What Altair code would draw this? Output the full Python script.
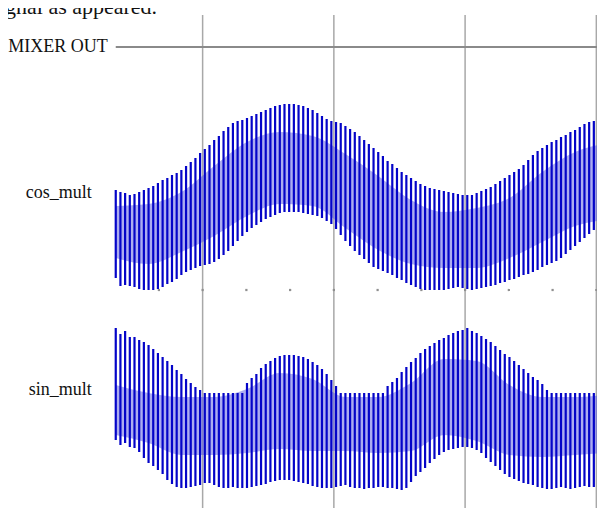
import altair as alt
import pandas as pd

# ---- values (amplitude relative to each trace's baseline) ----
cos_top = [50, 48, 47, 45, 46, 48, 50, 52, 54, 57, 60, 62, 65, 67, 70, 74, 78, 82, 87, 91,
           95, 100, 104, 109, 113, 117, 119, 120, 122, 124, 126, 128, 130, 132, 134, 135, 136, 136, 136, 135,
           134, 132, 130, 127, 124, 121, 119, 118, 117, 114, 111, 108, 104, 100, 96, 92, 88, 84, 79, 76,
           72, 68, 65, 62, 59, 56, 54, 52, 51, 50, 49, 48, 47, 46, 45, 45, 45, 47, 49, 51,
           53, 56, 59, 62, 65, 68, 71, 75, 80, 85, 89, 92, 95, 98, 100, 103, 105, 108, 110, 113,
           116, 118, 119, 121, 122]
cos_bot = [-38, -46, -45, -46, -47, -49, -50, -50, -50, -49, -47, -44, -42, -39, -35, -32, -30, -28, -26, -25,
           -24, -22, -19, -15, -11, -6, -1, 4, 8, 12, 15, 18, 21, 23, 25, 27, 28, 28, 28, 28,
           27, 26, 25, 24, 22, 19, 16, 11, 5, -1, -6, -11, -15, -19, -23, -27, -29, -31, -33, -35,
           -38, -40, -43, -45, -47, -49, -50, -50, -50, -50, -50, -49, -48, -47, -48, -49, -50, -49, -48, -47,
           -46, -45, -43, -42, -40, -39, -37, -35, -34, -32, -30, -27, -25, -23, -21, -18, -14, -10, -6, -2,
           2, 6, 10, 14, 16]
sin_top = [65, 59, 62, 56, 56, 53, 51, 48, 44, 40, 36, 32, 28, 23, 19, 14, 10, 6, 3, 0,
           0, 0, 0, 0, 0, 0, 0, 0, 10, 15, 19, 25, 29, 32, 35, 37, 38, 38, 38, 37,
           36, 34, 31, 28, 24, 19, 13, 7, 0, 0, 0, 0, 0, 0, 0, 0, 0, 0, 7, 11,
           15, 21, 26, 31, 35, 40, 44, 47, 50, 53, 55, 58, 60, 62, 63, 65, 62, 60, 57, 54,
           51, 47, 43, 39, 36, 32, 28, 24, 20, 16, 13, 9, 3, 0, 0, 0, 0, 0, 0, 0,
           0, 0, 0, 12, 13]
sin_bot = [-47, -52, -50, -54, -55, -59, -65, -70, -73, -77, -81, -87, -91, -94, -95, -95, -94, -93, -92, -90,
           -90, -92, -94, -95, -95, -94, -95, -95, -95, -94, -93, -92, -91, -89, -88, -87, -87, -87, -88, -89,
           -90, -91, -93, -94, -95, -95, -95, -94, -93, -92, -94, -95, -95, -96, -95, -95, -94, -94, -95, -95,
           -96, -97, -95, -89, -83, -79, -75, -70, -66, -62, -59, -57, -56, -55, -54, -54, -55, -57, -60, -65,
           -69, -73, -77, -81, -84, -86, -88, -90, -91, -92, -94, -95, -96, -96, -95, -94, -95, -96, -95, -94,
           -93, -94, -94, -93, -92]

# dense inner band (coarse readings at cycle indices)
band_idx = [0, 7, 14, 21, 28, 35, 42, 49, 56, 63, 70, 77, 84, 91, 98, 104]
cos_band_hi = [34, 36, 48, 74, 98, 108, 104, 86, 64, 40, 28, 32, 42, 68, 88, 96]
cos_band_lo = [-18, -24, -12, 4, 24, 36, 34, 12, -10, -24, -28, -28, -18, -2, 14, 20]
sin_band_hi = [8, 0, -4, -4, 4, 20, 14, -4, -4, 10, 34, 32, 8, -4, -4, -2]
sin_band_lo = [-42, -50, -62, -62, -60, -56, -58, -58, -60, -58, -42, -48, -62, -64, -62, -60]

labels = ["MIXER OUT", "cos_mult", "sin_mult"]
grid_divs = [1, 2, 3, 4]
dot_divs = [2/3, 1, 4/3, 5/3, 2, 7/3, 8/3, 3, 10/3, 11/3, 4]
top_text = "gnal as appeared."

# ---- layout parameters ----
W, H = 589, 500
X_MIN, X_MAX = -0.483, 4.005          # time axis in screen divisions
T0, CYC_PER_DIV = 0.338, 28
OFF_MIX, OFF_COS, OFF_SIN, OFF_DOTS = 461, 268, 115, 218
BLUE, BAND = "#0404c8", "#5a5ae2"

def t_of(i):
    return T0 + i / CYC_PER_DIV

rows = []
for name, top, bot, off in (("cos_mult", cos_top, cos_bot, OFF_COS), ("sin_mult", sin_top, sin_bot, OFF_SIN)):
    for i, (a, b) in enumerate(zip(top, bot)):
        rows.append({"trace": name, "t": t_of(i), "hi": off + a, "lo": off + b})
cyc = pd.DataFrame(rows)

brows = []
for name, hi, lo, off in (("cos_mult", cos_band_hi, cos_band_lo, OFF_COS), ("sin_mult", sin_band_hi, sin_band_lo, OFF_SIN)):
    for i, a, b in zip(band_idx, hi, lo):
        brows.append({"trace": name, "t": t_of(i), "hi": off + a, "lo": off + b})
band = pd.DataFrame(brows)

xs = alt.Scale(domain=[X_MIN, X_MAX], nice=False, zero=False)
ys = alt.Scale(domain=[0, H], nice=False, zero=False)
X = lambda f: alt.X(f, type="quantitative", scale=xs, axis=None)
Y = lambda f: alt.Y(f, type="quantitative", scale=ys, axis=None)

grid = alt.Chart(pd.DataFrame({"t": grid_divs, "y0": 0, "y1": H - 7})).mark_rule(
    color="#a8a8a8", strokeWidth=1.5).encode(x=X("t"), y=Y("y0"), y2="y1")

mix = alt.Chart(pd.DataFrame({"t0": [T0], "t1": [X_MAX], "y": [OFF_MIX]})).mark_rule(
    color="#8a8a8a", strokeWidth=2).encode(x=X("t0"), x2="t1", y=Y("y"))

dots = alt.Chart(pd.DataFrame({"t": dot_divs, "y": OFF_DOTS})).mark_square(
    size=5, color="#909090", opacity=1).encode(x=X("t"), y=Y("y"))

area = alt.Chart(band).mark_area(color=BAND, opacity=0.5, interpolate="monotone", clip=True).encode(
    x=X("t"), y=Y("lo"), y2="hi", detail="trace:N")

lines = alt.Chart(cyc).mark_rule(color=BLUE, strokeWidth=2.2, clip=True).encode(
    x=X("t"), y=Y("lo"), y2="hi")

lab = pd.DataFrame({"text": labels, "t": [0.2776, 0.156, 0.156], "y": [OFF_MIX, 315, 118]})
text = alt.Chart(lab).mark_text(align="right", baseline="middle", font="Liberation Serif",
                                fontSize=18, color="#111111").encode(x=X("t"), y=Y("y"), text="text:N")

top = alt.Chart(pd.DataFrame({"text": [top_text], "t": [X_MIN], "y": [H - 6]})).mark_text(
    align="left", baseline="alphabetic", font="Liberation Serif", fontSize=22, color="#111111",
    dx=-3).encode(x=X("t"), y=Y("y"), text="text:N")

chart = alt.layer(grid, mix, dots, area, lines, text, top).properties(
    width=W, height=H, padding=0, autosize=alt.AutoSizeParams(type="none")
).configure_view(stroke=None)

chart.save("out.html", embed_options={"renderer": "svg", "actions": False})
